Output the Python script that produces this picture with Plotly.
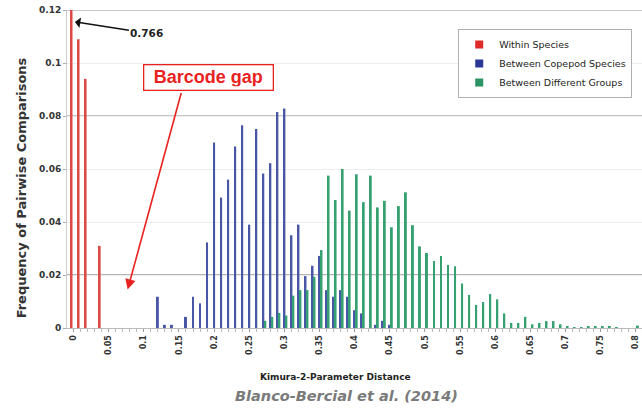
import plotly.graph_objects as go

# ---- data -------------------------------------------------------------
distance = [round(i / 100, 2) for i in range(81)]  # bin categories 0.00 .. 0.80

within_species = [
    0.766, 0.109, 0.094, 0, 0.031, 0, 0, 0, 0, 0,
    0, 0, 0, 0, 0, 0, 0, 0, 0, 0,
    0, 0, 0, 0, 0, 0, 0, 0, 0, 0,
    0, 0, 0, 0, 0, 0, 0, 0, 0, 0,
    0, 0, 0, 0, 0, 0, 0, 0, 0, 0,
    0, 0, 0, 0, 0, 0, 0, 0, 0, 0,
    0, 0, 0, 0, 0, 0, 0, 0, 0, 0,
    0, 0, 0, 0, 0, 0, 0, 0, 0, 0,
    0,
]

between_copepod = [
    0, 0, 0, 0, 0, 0, 0, 0, 0, 0,
    0, 0, 0.0118, 0.0012, 0.0012, 0, 0.0042, 0.0118, 0.0093, 0.0323,
    0.0700, 0.0492, 0.0560, 0.0685, 0.0765, 0.0390, 0.0751, 0.0583, 0.0622, 0.0815,
    0.0828, 0.0350, 0.0390, 0.0196, 0.0235, 0.0272, 0.0143, 0.0118, 0.0143, 0.0118,
    0.0067, 0.0055, 0, 0.0012, 0.0027, 0.0012, 0, 0, 0, 0,
    0, 0, 0, 0, 0, 0, 0, 0, 0, 0,
    0, 0, 0, 0, 0, 0, 0, 0, 0, 0,
    0, 0, 0, 0, 0, 0, 0, 0, 0, 0,
    0,
]

between_groups = [
    0, 0, 0, 0, 0, 0, 0, 0, 0, 0,
    0, 0, 0, 0, 0, 0, 0, 0, 0, 0,
    0, 0, 0, 0, 0, 0, 0, 0.0027, 0.0042, 0.0057,
    0.0047, 0.0122, 0.0143, 0.0143, 0.0193, 0.0294, 0.0575, 0.0483, 0.0600, 0.0443,
    0.0580, 0.0475, 0.0575, 0.0455, 0.0480, 0.0380, 0.0460, 0.0512, 0.0388, 0.0308,
    0.0283, 0.0253, 0.0272, 0.0238, 0.0233, 0.0168, 0.0125, 0.0087, 0.0098, 0.0128,
    0.0108, 0.0055, 0.0019, 0.0019, 0.0042, 0.0014, 0.0019, 0.0026, 0.0026, 0.0014,
    0.0007, 0.0003, 0.0002, 0.0004, 0.0006, 0.0004, 0.0006, 0.0003, 0, 0,
    0.0009,
]

series_names = ["Within Species", "Between Copepod Species", "Between Different Groups"]
series_values = [within_species, between_copepod, between_groups]
bar_colors = ["#dc4a46", "#4856a6", "#35a070"]
legend_colors = ["#e02a2a", "#2b3898", "#2b9363"]

x_tick_vals = [0, 0.05, 0.1, 0.15, 0.2, 0.25, 0.3, 0.35, 0.4, 0.45, 0.5, 0.55, 0.6, 0.65, 0.7, 0.75, 0.8]
x_tick_text = ["0", "0.05", "0.1", "0.15", "0.2", "0.25", "0.3", "0.35", "0.4", "0.45", "0.5",
               "0.55", "0.6", "0.65", "0.7", "0.75", "0.8"]
y_tick_vals = [0, 0.02, 0.04, 0.06, 0.08, 0.1, 0.12]
y_tick_text = ["0", "0.02", "0.04", "0.06", "0.08", "0.1", "0.12"]
dark_grid = [0.02, 0.08, 0.12]

# ---- figure -----------------------------------------------------------
fig = go.Figure()
for name, vals, col in zip(series_names, series_values, bar_colors):
    fig.add_trace(go.Bar(x=distance, y=vals, name=name, marker_color=col,
                         marker_line_width=0, showlegend=False))
for name, col in zip(series_names, legend_colors):
    fig.add_trace(go.Scatter(x=[None], y=[None], mode="markers", name=name,
                             marker=dict(symbol="square", size=8, color=col)))

for gy in dark_grid:
    fig.add_shape(type="line", xref="paper", yref="y", x0=0, x1=1, y0=gy, y1=gy,
                  line=dict(color="#8f8f8f" if gy != 0.02 else "#6a6a6a", width=1),
                  layer="below")

tick_font = dict(family="DejaVu Sans", size=8, color="#333333", weight="bold")

fig.update_layout(
    width=642, height=412,
    margin=dict(l=67, r=0, t=10, b=84, autoexpand=False),
    paper_bgcolor="white", plot_bgcolor="white",
    barmode="group", bargap=0.16, bargroupgap=0,
    font=dict(family="DejaVu Sans", color="#222222"),
    xaxis=dict(
        range=[-0.00925, 0.8087], tickmode="array", tickvals=x_tick_vals, ticktext=x_tick_text,
        tickangle=-90, tickfont=tick_font, ticks="outside", ticklen=3, tickcolor="#999999",
        minor=dict(dtick=0.01, tick0=0, ticks="outside", ticklen=3, tickcolor="#bbbbbb"),
        showgrid=False, zeroline=False, showline=True, linecolor="#bbbbbb", linewidth=1,
        automargin=False, ticklabeloverflow="allow",
    ),
    yaxis=dict(
        range=[0, 0.12], tickmode="array", tickvals=y_tick_vals, ticktext=y_tick_text,
        tickfont=dict(family="DejaVu Sans", size=9, color="#333333", weight="bold"),
        ticks="outside", ticklen=3, tickcolor="#aaaaaa",
        showgrid=True, gridcolor="#ededed", gridwidth=1, zeroline=False,
        showline=True, linecolor="#cccccc", linewidth=1, automargin=False,
    ),
    legend=dict(
        x=0.983, y=0.94, xanchor="right", yanchor="top",
        bgcolor="white", bordercolor="#b0b0b0", borderwidth=1,
        font=dict(family="DejaVu Sans", size=9.5, color="#222222"),
        itemwidth=30, tracegroupgap=0,
    ),
)

# axis titles and caption
fig.add_annotation(text="Frequency of Pairwise Comparisons", xref="paper", yref="paper",
                   x=-0.0795, y=0.44, xanchor="center", yanchor="middle", textangle=-90,
                   showarrow=False,
                   font=dict(family="DejaVu Sans", size=13, color="#333333", weight="bold"))
fig.add_annotation(text="Kimura-2-Parameter Distance", xref="paper", yref="paper",
                   x=(335 - 67) / 575, y=-(377 - 328) / 318, xanchor="center", yanchor="middle",
                   showarrow=False,
                   font=dict(family="DejaVu Sans", size=9, color="#222222", weight="bold"))
fig.add_annotation(text="<i>Blanco-Bercial et al. (2014)</i>", xref="paper", yref="paper",
                   x=(346 - 67) / 575, y=-(396 - 328) / 318, xanchor="center", yanchor="middle",
                   showarrow=False,
                   font=dict(family="DejaVu Sans", size=14.5, color="#7a7a7a", weight="bold"))

# 0.766 pointer
fig.add_annotation(text="0.766", x=0.002, y=0.1155, xref="x", yref="y",
                   showarrow=True, ax=72, ay=11, arrowhead=1, arrowsize=1.2,
                   arrowwidth=1.5, arrowcolor="#111111",
                   font=dict(family="DejaVu Sans", size=10.5, color="#222222", weight="bold"))

# Barcode gap label and arrow
fig.add_annotation(text="Barcode gap", xref="paper", yref="paper",
                   x=(208 - 67) / 575, y=(328 - 77.5) / 318, xanchor="center", yanchor="middle",
                   showarrow=False, bgcolor="white", bordercolor="#e8231f", borderwidth=1.3,
                   borderpad=3, width=122, height=18,
                   font=dict(family="Liberation Sans", size=18, color="#e8231f", weight="bold"))
fig.add_annotation(text="", x=0.077, y=0.0145, xref="x", yref="y",
                   showarrow=True, ax=54, ay=-198, arrowhead=2, arrowsize=1.3,
                   arrowwidth=1.6, arrowcolor="#e8231f")

fig.write_html("out.html")
